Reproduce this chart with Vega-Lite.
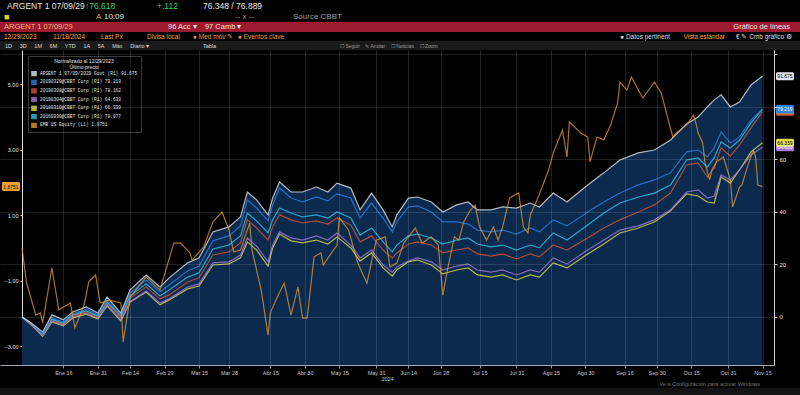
{
  "$schema": "https://vega.github.io/schema/vega-lite/v6.json",
  "background": "#000000",
  "padding": 0,
  "spacing": 0,
  "resolve": {"scale": {"color": "independent"}, "legend": {"color": "independent"}},
  "config": {"font": "Liberation Sans", "view": {"stroke": null}, "concat": {"spacing": 0},
    "axisX": {"labelOverlap": false, "labelSeparation": 0, "labelBound": false}},
  "datasets": {
    "bonds": [
      {"date":"2023-12-29","w":0,"b":0,"c":0,"r":0,"p":0,"y":0},
      {"date":"2024-01-02","w":-2.3,"b":-2.5,"c":-2.5,"r":-3,"p":-3,"y":-3},
      {"date":"2024-01-07","w":-5.7,"b":-6.5,"c":-6.8,"r":-7,"p":-7.2,"y":-7.4},
      {"date":"2024-01-11","w":0.8,"b":-0.4,"c":-0.8,"r":-1.1,"p":-1.5,"y":-1.9},
      {"date":"2024-01-16","w":-1.1,"b":-1.9,"c":-2.3,"r":-2.7,"p":-3.0,"y":-3.4},
      {"date":"2024-01-20","w":1.9,"b":1.1,"c":0.8,"r":0.4,"p":0,"y":-0.4},
      {"date":"2024-01-26","w":3.8,"b":3.0,"c":2.3,"r":1.9,"p":1.5,"y":1.1},
      {"date":"2024-01-31","w":1.5,"b":0.8,"c":0.4,"r":0,"p":-0.4,"y":-0.8},
      {"date":"2024-02-04","w":7.6,"b":6.5,"c":5.7,"r":5.3,"p":4.6,"y":4.2},
      {"date":"2024-02-10","w":1.5,"b":0.8,"c":0.4,"r":-0.4,"p":-1.1,"y":-1.5},
      {"date":"2024-02-14","w":10.3,"b":9.1,"c":8.0,"r":7.2,"p":5.7,"y":5.7},
      {"date":"2024-02-21","w":16.0,"b":14.1,"c":12.6,"r":11.4,"p":9.9,"y":9.5},
      {"date":"2024-02-27","w":11.4,"b":9.5,"c":8.0,"r":6.9,"p":5.3,"y":4.6},
      {"date":"2024-03-02","w":14.9,"b":12.2,"c":10.3,"r":8.4,"p":6.9,"y":6.5},
      {"date":"2024-03-10","w":20.6,"b":17.5,"c":15.2,"r":13.3,"p":11.4,"y":10.7},
      {"date":"2024-03-15","w":22.5,"b":19.4,"c":16.8,"r":14.9,"p":12.6,"y":11.8},
      {"date":"2024-03-21","w":32.4,"b":29.0,"c":25.9,"r":23.6,"p":20.6,"y":19.8},
      {"date":"2024-03-28","w":34.3,"b":30.9,"c":27.4,"r":24.8,"p":21.0,"y":20.2},
      {"date":"2024-04-02","w":38.1,"b":34.7,"c":30.9,"r":28.2,"p":23.6,"y":22.5},
      {"date":"2024-04-05","w":47.6,"b":44.6,"c":39.6,"r":37.0,"p":30.1,"y":28.6},
      {"date":"2024-04-09","w":44.6,"b":41.5,"c":36.6,"r":33.9,"p":27.0,"y":25.5},
      {"date":"2024-04-14","w":38.9,"b":36.6,"c":32.0,"r":29.3,"p":21.0,"y":19.4},
      {"date":"2024-04-16","w":45.3,"b":42.7,"c":37.0,"r":34.3,"p":27.4,"y":26.3},
      {"date":"2024-04-19","w":51.4,"b":49.1,"c":41.5,"r":38.9,"p":32.4,"y":31.6},
      {"date":"2024-04-24","w":47.6,"b":45.3,"c":39.6,"r":37.0,"p":30.1,"y":29.0},
      {"date":"2024-04-29","w":47.6,"b":43.8,"c":38.1,"r":35.8,"p":29.3,"y":28.2},
      {"date":"2024-05-05","w":49.5,"b":45.7,"c":38.9,"r":36.6,"p":30.9,"y":29.3},
      {"date":"2024-05-10","w":47.6,"b":44.2,"c":37.7,"r":35.4,"p":29.3,"y":27.8},
      {"date":"2024-05-14","w":51.0,"b":46.9,"c":40.0,"r":37.7,"p":32.0,"y":30.5},
      {"date":"2024-05-20","w":49.1,"b":45.3,"c":37.7,"r":35.0,"p":27.4,"y":26.3},
      {"date":"2024-05-24","w":40.8,"b":37.7,"c":31.2,"r":28.6,"p":22.5,"y":21.3},
      {"date":"2024-05-29","w":47.2,"b":43.4,"c":33.9,"r":30.9,"p":25.5,"y":24.4},
      {"date":"2024-06-03","w":40.8,"b":37.7,"c":28.6,"r":25.5,"p":19.8,"y":18.7},
      {"date":"2024-06-07","w":34.3,"b":32.4,"c":24.8,"r":22.5,"p":17.1,"y":15.6},
      {"date":"2024-06-09","w":38.9,"b":36.2,"c":27.4,"r":24.4,"p":19.0,"y":17.9},
      {"date":"2024-06-14","w":45.3,"b":41.9,"c":30.9,"r":27.8,"p":21.3,"y":21.0},
      {"date":"2024-06-18","w":45.7,"b":42.3,"c":31.6,"r":28.6,"p":22.5,"y":21.7},
      {"date":"2024-06-24","w":43.8,"b":40.0,"c":30.1,"r":27.4,"p":21.0,"y":19.8},
      {"date":"2024-06-29","w":40.0,"b":36.2,"c":27.8,"r":24.4,"p":17.9,"y":16.4},
      {"date":"2024-07-05","w":42.7,"b":36.2,"c":29.3,"r":25.5,"p":19.4,"y":17.9},
      {"date":"2024-07-10","w":43.8,"b":35.4,"c":30.1,"r":26.3,"p":20.2,"y":18.7},
      {"date":"2024-07-14","w":40.8,"b":33.1,"c":27.8,"r":24.0,"p":17.9,"y":16.0},
      {"date":"2024-07-20","w":40.8,"b":32.4,"c":26.7,"r":23.2,"p":17.1,"y":15.2},
      {"date":"2024-07-25","w":41.9,"b":33.1,"c":27.4,"r":24.0,"p":17.9,"y":16.0},
      {"date":"2024-07-31","w":41.5,"b":31.6,"c":25.5,"r":22.1,"p":16.0,"y":14.1},
      {"date":"2024-08-06","w":43.4,"b":33.9,"c":27.4,"r":24.0,"p":17.9,"y":16.0},
      {"date":"2024-08-10","w":41.9,"b":32.4,"c":26.3,"r":22.9,"p":17.1,"y":15.2},
      {"date":"2024-08-16","w":47.2,"b":37.0,"c":32.0,"r":27.4,"p":22.5,"y":20.6},
      {"date":"2024-08-22","w":43.8,"b":34.7,"c":29.3,"r":25.5,"p":20.2,"y":18.7},
      {"date":"2024-08-31","w":50.3,"b":40.0,"c":35.0,"r":30.1,"p":25.5,"y":24.0},
      {"date":"2024-09-07","w":54.9,"b":43.8,"c":39.6,"r":33.9,"p":29.3,"y":27.8},
      {"date":"2024-09-14","w":59.8,"b":47.2,"c":43.4,"r":37.0,"p":33.1,"y":32.0},
      {"date":"2024-09-22","w":62.5,"b":50.3,"c":45.7,"r":40.0,"p":34.7,"y":33.9},
      {"date":"2024-09-29","w":63.6,"b":52.2,"c":47.2,"r":42.7,"p":37.0,"y":36.2},
      {"date":"2024-10-06","w":67.4,"b":54.9,"c":50.3,"r":47.2,"p":40.8,"y":40.4},
      {"date":"2024-10-13","w":73.5,"b":62.9,"c":59.8,"r":57.9,"p":47.6,"y":46.9},
      {"date":"2024-10-18","w":76.2,"b":63.6,"c":60.6,"r":58.7,"p":48.4,"y":46.1},
      {"date":"2024-10-22","w":80.0,"b":61.0,"c":57.1,"r":53.3,"p":45.3,"y":43.8},
      {"date":"2024-10-25","w":82.7,"b":64.4,"c":60.6,"r":56.8,"p":46.1,"y":43.4},
      {"date":"2024-10-28","w":84.6,"b":70.5,"c":66.7,"r":64.4,"p":54.1,"y":53.3},
      {"date":"2024-11-01","w":80.0,"b":66.3,"c":64.4,"r":61.3,"p":52.2,"y":51.0},
      {"date":"2024-11-05","w":81.9,"b":68.6,"c":67.4,"r":65.5,"p":56.0,"y":56.0},
      {"date":"2024-11-10","w":88.4,"b":75.0,"c":73.9,"r":72.0,"p":61.7,"y":62.9},
      {"date":"2024-11-15","w":91.675,"b":79.219,"c":79.077,"r":78.162,"p":64.633,"y":66.339}
    ],
    "emb": [
      {"date":"2023-12-29","v":0},{"date":"2023-12-31","v":-1.07},{"date":"2024-01-04","v":-2.05},{"date":"2024-01-06","v":-1.98},
      {"date":"2024-01-07","v":-2.29},{"date":"2024-01-11","v":-0.61},{"date":"2024-01-14","v":-1.89},{"date":"2024-01-19","v":-1.68},
      {"date":"2024-01-21","v":-2.44},{"date":"2024-01-25","v":-1.74},{"date":"2024-01-27","v":-1.04},{"date":"2024-01-30","v":-0.82},
      {"date":"2024-02-01","v":-1.68},{"date":"2024-02-05","v":-1.59},{"date":"2024-02-10","v":-1.68},{"date":"2024-02-11","v":-2.87},
      {"date":"2024-02-14","v":-1.50},{"date":"2024-02-21","v":-0.89},{"date":"2024-02-27","v":-1.28},{"date":"2024-03-04","v":0.15},
      {"date":"2024-03-07","v":0.15},{"date":"2024-03-11","v":-0.15},{"date":"2024-03-12","v":-0.37},{"date":"2024-03-17","v":0.03},
      {"date":"2024-03-21","v":0.79},{"date":"2024-03-25","v":1.10},{"date":"2024-03-28","v":0.55},{"date":"2024-03-30","v":-0.12},
      {"date":"2024-04-02","v":-0.06},{"date":"2024-04-06","v":0.76},{"date":"2024-04-07","v":-0.06},{"date":"2024-04-11","v":-1.28},
      {"date":"2024-04-14","v":-2.66},{"date":"2024-04-15","v":-1.98},{"date":"2024-04-18","v":-1.50},{"date":"2024-04-21","v":-1.07},
      {"date":"2024-04-24","v":-2.05},{"date":"2024-04-27","v":-1.19},{"date":"2024-04-29","v":-2.14},{"date":"2024-05-01","v":-2.14},
      {"date":"2024-05-04","v":-0.27},{"date":"2024-05-07","v":-0.15},{"date":"2024-05-08","v":-0.52},{"date":"2024-05-11","v":-0.21},
      {"date":"2024-05-14","v":0.09},{"date":"2024-05-15","v":0.92},{"date":"2024-05-19","v":0.55},{"date":"2024-05-23","v":-0.46},
      {"date":"2024-05-27","v":-1.07},{"date":"2024-05-31","v":0.24},{"date":"2024-06-04","v":0.34},{"date":"2024-06-06","v":-0.58},
      {"date":"2024-06-09","v":-0.46},{"date":"2024-06-12","v":0.15},{"date":"2024-06-17","v":0.61},{"date":"2024-06-20","v":0.15},
      {"date":"2024-06-24","v":0.34},{"date":"2024-06-27","v":0.09},{"date":"2024-06-29","v":-1.44},{"date":"2024-07-01","v":-0.67},
      {"date":"2024-07-04","v":0.34},{"date":"2024-07-06","v":0.24},{"date":"2024-07-08","v":0.79},{"date":"2024-07-11","v":1.16},
      {"date":"2024-07-13","v":1.31},{"date":"2024-07-15","v":0.64},{"date":"2024-07-18","v":0.24},{"date":"2024-07-21","v":0.64},
      {"date":"2024-07-23","v":0.24},{"date":"2024-07-25","v":0.64},{"date":"2024-07-28","v":1.53},{"date":"2024-08-01","v":1.68},
      {"date":"2024-08-03","v":0.64},{"date":"2024-08-05","v":0.46},{"date":"2024-08-06","v":1.01},{"date":"2024-08-09","v":1.47},
      {"date":"2024-08-14","v":2.38},{"date":"2024-08-16","v":2.90},{"date":"2024-08-20","v":3.60},{"date":"2024-08-22","v":2.78},
      {"date":"2024-08-23","v":3.85},{"date":"2024-08-28","v":3.51},{"date":"2024-08-31","v":3.39},{"date":"2024-09-01","v":2.63},
      {"date":"2024-09-04","v":3.39},{"date":"2024-09-07","v":3.30},{"date":"2024-09-10","v":3.76},{"date":"2024-09-13","v":4.43},
      {"date":"2024-09-14","v":5.07},{"date":"2024-09-17","v":4.82},{"date":"2024-09-19","v":5.22},{"date":"2024-09-22","v":4.82},
      {"date":"2024-09-24","v":4.58},{"date":"2024-09-29","v":5.07},{"date":"2024-10-02","v":4.73},{"date":"2024-10-05","v":3.91},
      {"date":"2024-10-07","v":3.39},{"date":"2024-10-09","v":3.54},{"date":"2024-10-13","v":3.76},{"date":"2024-10-16","v":4.06},
      {"date":"2024-10-17","v":3.82},{"date":"2024-10-18","v":3.51},{"date":"2024-10-20","v":3.21},{"date":"2024-10-21","v":2.60},
      {"date":"2024-10-23","v":2.08},{"date":"2024-10-24","v":2.38},{"date":"2024-10-26","v":2.63},{"date":"2024-10-29","v":2.78},
      {"date":"2024-11-01","v":2.08},{"date":"2024-11-02","v":1.25},{"date":"2024-11-05","v":1.86},{"date":"2024-11-06","v":1.92},
      {"date":"2024-11-09","v":2.60},{"date":"2024-11-11","v":2.99},{"date":"2024-11-12","v":2.78},{"date":"2024-11-13","v":1.92},
      {"date":"2024-11-15","v":1.8751}
    ],
    "last": [
      {"date":"2024-11-15","serie":"r","v":78.162},
      {"date":"2024-11-15","serie":"c","v":79.077},
      {"date":"2024-11-15","serie":"b","v":79.219},
      {"date":"2024-11-15","serie":"p","v":64.633},
      {"date":"2024-11-15","serie":"y","v":66.339},
      {"date":"2024-11-15","serie":"w","v":91.675}
    ],
    "embLast": [{"serie":"e","v":1.8751}]
  },
  "vconcat": [
    {
      "width": 800, "height": 11,
      "data": {"values": [{}]},
      "view": {"fill": "#000000", "stroke": null},
      "layer": [
        {"mark": {"type":"text","text":"ARGENT 1 07/09/29","x":0,"dx":7,"align":"left","fontSize":8.5,"color":"#e6e6e6"}, "encoding": {}},
        {"mark": {"type":"text","text":"↑76.618","x":0,"dx":85,"align":"left","fontSize":8.5,"color":"#3fd45c"}, "encoding": {}},
        {"mark": {"type":"text","text":"+.112","x":0,"dx":157,"align":"left","fontSize":8.5,"color":"#3fd45c"}, "encoding": {}},
        {"mark": {"type":"text","text":"76.348 / 76.889","x":0,"dx":203,"align":"left","fontSize":8.5,"color":"#e6e6e6"}, "encoding": {}}
      ]
    },
    {
      "width": 800, "height": 11,
      "data": {"values": [{}]},
      "view": {"fill": "#000000", "stroke": null},
      "layer": [
        {"mark": {"type":"text","text":"■","x":0,"dx":4,"align":"left","fontSize":9,"color":"#e8d020"}, "encoding": {}},
        {"mark": {"type":"text","text":"A","x":0,"dx":96,"align":"left","fontSize":8,"color":"#f0a030"}, "encoding": {}},
        {"mark": {"type":"text","text":"10:09","x":0,"dx":104,"align":"left","fontSize":8,"color":"#e6e6e6"}, "encoding": {}},
        {"mark": {"type":"text","text":"-- x --","x":0,"dx":235,"align":"left","fontSize":8,"color":"#9a9a9a"}, "encoding": {}},
        {"mark": {"type":"text","text":"Source CBBT","x":0,"dx":293,"align":"left","fontSize":8,"color":"#9a9a9a"}, "encoding": {}}
      ]
    },
    {
      "width": 800, "height": 10,
      "data": {"values": [{}]},
      "view": {"fill": "#9c1a2e", "stroke": null},
      "layer": [
        {"mark": {"type":"text","text":"ARGENT 1 07/09/29","x":0,"dx":4,"align":"left","fontSize":7.5,"color":"#f2b27a"}, "encoding": {}},
        {"mark": {"type":"text","text":"96 Acc ▾\u00a0\u00a0\u00a0 97 Camb ▾","x":0,"dx":168,"align":"left","fontSize":7.5,"color":"#f0e0e0"}, "encoding": {}},
        {"mark": {"type":"text","text":"Gráfico de líneas","x":"width","dx":-10,"align":"right","fontSize":7.5,"color":"#f0e0e0"}, "encoding": {}}
      ]
    },
    {
      "width": 800, "height": 9,
      "data": {"values": [{}]},
      "view": {"fill": "#000000", "stroke": null},
      "layer": [
        {"mark": {"type":"text","text":"12/29/2023","x":0,"dx":4,"align":"left","fontSize":6.5,"color":"#f5a623"}, "encoding": {}},
        {"mark": {"type":"text","text":"11/18/2024","x":0,"dx":53,"align":"left","fontSize":6.5,"color":"#f5a623"}, "encoding": {}},
        {"mark": {"type":"text","text":"Last Px","x":0,"dx":101,"align":"left","fontSize":6.5,"color":"#f5a623"}, "encoding": {}},
        {"mark": {"type":"text","text":"Divisa local","x":0,"dx":147,"align":"left","fontSize":6.5,"color":"#f5a623"}, "encoding": {}},
        {"mark": {"type":"text","text":"● Med móv ✎","x":0,"dx":193,"align":"left","fontSize":6.5,"color":"#e89a30"}, "encoding": {}},
        {"mark": {"type":"text","text":"● Eventos clave","x":0,"dx":238,"align":"left","fontSize":6.5,"color":"#e89a30"}, "encoding": {}},
        {"mark": {"type":"text","text":"● Datos pertinent","x":"width","dx":-130,"align":"right","fontSize":6.5,"color":"#dddddd"}, "encoding": {}},
        {"mark": {"type":"text","text":"Vista estándar","x":"width","dx":-75,"align":"right","fontSize":6.5,"color":"#f5a623"}, "encoding": {}},
        {"mark": {"type":"text","text":"€ ✎ Cmb gráfico ⚙","x":"width","dx":-8,"align":"right","fontSize":6.5,"color":"#dddddd"}, "encoding": {}}
      ]
    },
    {
      "width": 800, "height": 9,
      "data": {"values": [{}]},
      "view": {"fill": "#1a1a1a", "stroke": null},
      "layer": [
        {"mark": {"type":"text","text":"1D\u00a0\u00a0\u00a0\u00a0 3D\u00a0\u00a0\u00a0\u00a0 1M\u00a0\u00a0\u00a0\u00a0 6M\u00a0\u00a0\u00a0\u00a0 YTD\u00a0\u00a0\u00a0\u00a0 1A\u00a0\u00a0\u00a0\u00a0 5A\u00a0\u00a0\u00a0\u00a0 Máx\u00a0\u00a0\u00a0\u00a0 Diario ▾","x":0,"dx":5,"align":"left","fontSize":5.5,"color":"#dddddd"}, "encoding": {}},
        {"mark": {"type":"text","text":"Tabla","x":0,"dx":203,"align":"left","fontSize":5.5,"color":"#dddddd"}, "encoding": {}},
        {"mark": {"type":"text","text":"☐ Seguir\u00a0\u00a0\u00a0 ✎ Anotar\u00a0\u00a0\u00a0 ☐ Noticias\u00a0\u00a0\u00a0 ☐ Zoom","x":0,"dx":340,"align":"left","fontSize":5,"color":"#9a9a9a"}, "encoding": {}}
      ]
    },
    {
      "width": 774, "height": 315,
      "layer": [
        {
          "data": {"name": "bonds"},
          "layer": [
            {
              "mark": {"type": "area", "color": "#0b2a4e", "opacity": 1},
              "encoding": {
                "x": {"field": "date", "type": "temporal",
                  "scale": {"type": "utc", "domain": [{"year":2023,"month":"dec","date":19,"hours":10,"minutes":25,"utc":true},{"year":2024,"month":"nov","date":20,"utc":true}]},
                  "axis": {"title": "2024", "tickCount": 40, "values": [
                    {"year":2024,"month":1,"date":16,"utc":true},{"year":2024,"month":1,"date":31,"utc":true},
                    {"year":2024,"month":2,"date":14,"utc":true},{"year":2024,"month":2,"date":29,"utc":true},
                    {"year":2024,"month":3,"date":15,"utc":true},{"year":2024,"month":3,"date":28,"utc":true},
                    {"year":2024,"month":4,"date":15,"utc":true},{"year":2024,"month":4,"date":30,"utc":true},
                    {"year":2024,"month":5,"date":15,"utc":true},{"year":2024,"month":5,"date":31,"utc":true},
                    {"year":2024,"month":6,"date":14,"utc":true},{"year":2024,"month":6,"date":28,"utc":true},
                    {"year":2024,"month":7,"date":15,"utc":true},{"year":2024,"month":7,"date":31,"utc":true},
                    {"year":2024,"month":8,"date":15,"utc":true},{"year":2024,"month":8,"date":30,"utc":true},
                    {"year":2024,"month":9,"date":16,"utc":true},{"year":2024,"month":9,"date":30,"utc":true},
                    {"year":2024,"month":10,"date":15,"utc":true},{"year":2024,"month":10,"date":31,"utc":true},
                    {"year":2024,"month":11,"date":15,"utc":true}],
                    "labelExpr": "['Ene','Feb','Mar','Abr','May','Jun','Jul','Ago','Sep','Oct','Nov','Dic'][utcmonth(datum.value)] + ' ' + utcdate(datum.value)",
                    "labelOverlap": false,
                    "labelFontSize": 5.5, "labelColor": "#c8c8c8", "labelPadding": 2, "tickColor": "#888888", "tickSize": 3,
                    "domainColor": "#a0a8b0", "grid": true, "gridColor": "#ffffff", "gridOpacity": 0.12, "zindex": 1,
                    "titleFontSize": 5.5, "titleColor": "#c8c8c8", "titleFontWeight": "normal", "titlePadding": 1}},
                "y": {"field": "w", "type": "quantitative",
                  "scale": {"domain": [-18.3, 101.7], "nice": false, "zero": false},
                  "axis": {"orient": "right", "title": null, "values": [0,20,40,60,80,100],
                    "labelExpr": "datum.value >= 80 ? '' : datum.label",
                    "grid": true, "gridColor": "#ffffff", "gridOpacity": 0.12, "labelColor": "#e0e0e0", "labelFontSize": 6,
                    "labelPadding": 2, "tickColor": "#cccccc", "tickSize": 3, "domainColor": "#d0d0d0",
                    "minExtent": 26, "maxExtent": 26, "zindex": 1}},
                "y2": {"datum": -18.3}
              }
            },
            {
              "transform": [{"fold": ["y","p","r","c","b","w"], "as": ["serie","v"]}],
              "mark": {"type": "line", "strokeWidth": 1.2, "opacity": 0.8},
              "encoding": {
                "x": {"field": "date", "type": "temporal",
                  "scale": {"type": "utc", "domain": [{"year":2023,"month":"dec","date":19,"hours":10,"minutes":25,"utc":true},{"year":2024,"month":"nov","date":20,"utc":true}]}},
                "y": {"field": "v", "type": "quantitative", "scale": {"domain": [-18.3, 101.7], "nice": false, "zero": false}},
                "color": {"field": "serie", "type": "nominal",
                  "scale": {"domain": ["w","b","r","p","y","c","e"], "range": ["#dfe3ea","#2f7fe0","#d2563a","#a77ad8","#e0dc50","#2ec6e6","#e39a2e"]},
                  "legend": {"orient": "none", "legendX": 28, "legendY": 6, "title": ["Normalizado al 12/29/2023", "Último precio"],
                    "titleAnchor": "middle", "titleFontSize": 5, "titleColor": "#e0e0e0", "titleFontWeight": "normal", "titlePadding": 1,
                    "titleLineHeight": 6,
                    "labelFont": "Liberation Mono", "labelFontSize": 4.5, "labelColor": "#e0e0e0", "labelLimit": 0, "labelOffset": 3,
                    "labelExpr": "datum.label == 'w' ? 'ARGENT 1 07/09/2029 Govt (R1) 91.675' : datum.label == 'b' ? '20190320@CBBT Corp       (R1) 79.219' : datum.label == 'r' ? '20190308@CBBT Corp       (R1) 78.162' : datum.label == 'p' ? '20190304@CBBT Corp       (R1) 64.633' : datum.label == 'y' ? '20180310@CBBT Corp       (R1) 66.339' : datum.label == 'c' ? '20160930@CBBT Corp       (R1) 79.077' : 'EMB US Equity            (L1) 1.8751'",
                    "symbolType": "square", "symbolSize": 10, "symbolStrokeWidth": 2.5, "rowPadding": 1.6, "clipHeight": 5.5,
                    "fillColor": "#000000", "strokeColor": "#3a3a3a", "padding": 3}},
                "detail": {"field": "serie"}
              }
            },
            {
              "data": {"name": "last"},
              "mark": {"type": "rect", "xOffset": 13.5, "x2Offset": 31.5, "yOffset": -4, "y2Offset": 4, "cornerRadius": 1.5},
              "encoding": {
                "x": {"field": "date", "type": "temporal",
                  "scale": {"type": "utc", "domain": [{"year":2023,"month":"dec","date":19,"hours":10,"minutes":25,"utc":true},{"year":2024,"month":"nov","date":20,"utc":true}]}},
                "x2": {"field": "date"},
                "y": {"field": "v", "type": "quantitative", "scale": {"domain": [-18.3, 101.7], "nice": false, "zero": false}},
                "y2": {"field": "v"},
                "color": {"field": "serie", "type": "nominal",
                  "scale": {"domain": ["w","b","r","p","y","c","e"], "range": ["#dfe3ea","#2f7fe0","#d2563a","#a77ad8","#e0dc50","#2ec6e6","#e39a2e"]},
                  "legend": null}
              }
            },
            {
              "data": {"name": "last"},
              "transform": [{"filter": "datum.serie != 'c' && datum.serie != 'r'"}],
              "mark": {"type": "text", "dx": 22.5, "fontSize": 5, "align": "center", "baseline": "middle"},
              "encoding": {
                "x": {"field": "date", "type": "temporal",
                  "scale": {"type": "utc", "domain": [{"year":2023,"month":"dec","date":19,"hours":10,"minutes":25,"utc":true},{"year":2024,"month":"nov","date":20,"utc":true}]}},
                "y": {"field": "v", "type": "quantitative", "scale": {"domain": [-18.3, 101.7], "nice": false, "zero": false}},
                "text": {"field": "v", "type": "quantitative", "format": ".3f"},
                "color": {"condition": {"test": "datum.serie == 'w' || datum.serie == 'y'", "value": "#000000"}, "value": "#ffffff"}
              }
            }
          ]
        },
        {
          "layer": [
            {
              "data": {"name": "emb"},
              "transform": [{"fold": ["v"], "as": ["serie", "val"]}],
              "mark": {"type": "line", "strokeWidth": 1.2, "opacity": 0.75},
              "encoding": {
                "x": {"field": "date", "type": "temporal",
                  "scale": {"type": "utc", "domain": [{"year":2023,"month":"dec","date":19,"hours":10,"minutes":25,"utc":true},{"year":2024,"month":"nov","date":20,"utc":true}]}},
                "y": {"field": "val", "type": "quantitative",
                  "scale": {"domain": [-3.573, 6.046], "nice": false, "zero": false},
                  "axis": {"orient": "left", "title": null, "values": [-3,-2,-1,0,1,2,3,4,5], "format": ".2f", "offset": -22,
                    "labelExpr": "datum.value == 2 ? '' : datum.label",
                    "grid": false, "labelColor": "#e0e0e0", "labelFontSize": 5.5, "labelPadding": 2,
                    "tickColor": "#dddddd", "tickSize": 2, "domainColor": "#e0e0e0"}},
                "color": {"datum": "e", "type": "nominal",
                  "scale": {"domain": ["w","b","r","p","y","c","e"], "range": ["#dfe3ea","#2f7fe0","#d2563a","#a77ad8","#e0dc50","#2ec6e6","#e39a2e"]}}
              }
            },
            {
              "data": {"name": "embLast"},
              "mark": {"type": "rect", "xOffset": -20, "x2Offset": -2, "yOffset": -4.5, "y2Offset": 4.5, "cornerRadius": 1.5, "color": "#f0a030"},
              "encoding": {
                "x": {"datum": {"year":2023,"month":"dec","date":29,"utc":true}, "type": "temporal",
                  "scale": {"type": "utc", "domain": [{"year":2023,"month":"dec","date":19,"hours":10,"minutes":25,"utc":true},{"year":2024,"month":"nov","date":20,"utc":true}]}},
                "x2": {"datum": {"year":2023,"month":"dec","date":29,"utc":true}},
                "y": {"field": "v", "type": "quantitative", "scale": {"domain": [-3.573, 6.046], "nice": false, "zero": false}},
                "y2": {"field": "v"}
              }
            },
            {
              "data": {"name": "embLast"},
              "mark": {"type": "text", "dx": -11, "fontSize": 5, "align": "center", "baseline": "middle", "color": "#000000"},
              "encoding": {
                "x": {"datum": {"year":2023,"month":"dec","date":29,"utc":true}, "type": "temporal",
                  "scale": {"type": "utc", "domain": [{"year":2023,"month":"dec","date":19,"hours":10,"minutes":25,"utc":true},{"year":2024,"month":"nov","date":20,"utc":true}]}},
                "y": {"field": "v", "type": "quantitative", "scale": {"domain": [-3.573, 6.046], "nice": false, "zero": false}},
                "text": {"field": "v", "type": "quantitative", "format": ".4f"}
              }
            }
          ]
        }
      ],
      "resolve": {"scale": {"y": "independent"}}
    },
    {
      "width": 800, "height": 10,
      "data": {"values": [{}]},
      "view": {"fill": "#141414", "stroke": null},
      "layer": [
        {"mark": {"type":"text","text":"Ve a Configuración para activar Windows","x":"width","dx":-40,"dy":-9,"align":"right","fontSize":5.5,"color":"#777777"}, "encoding": {}}
      ]
    }
  ]
}
